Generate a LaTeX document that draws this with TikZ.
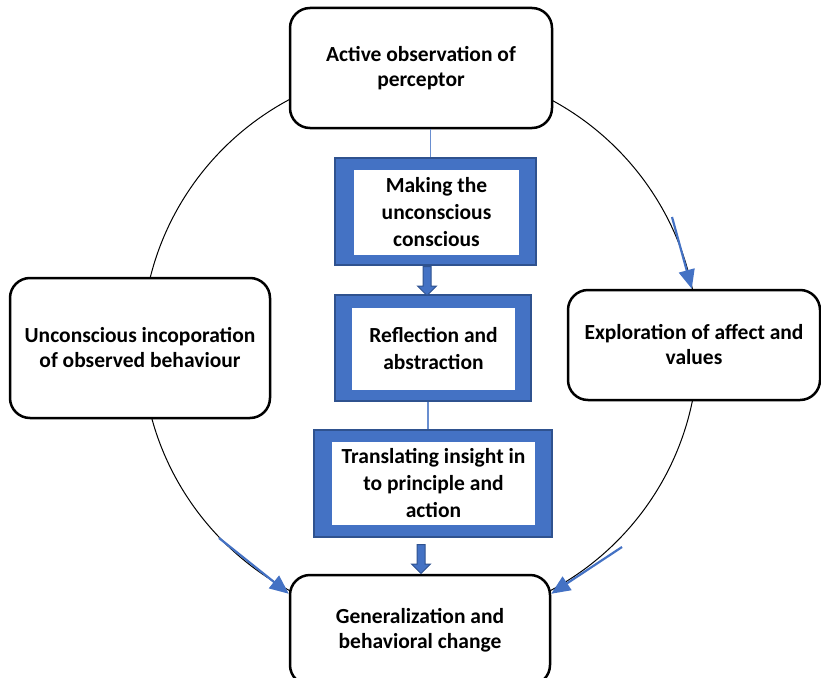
\documentclass[tikz,border=0pt]{standalone}
\usepackage{fontspec}
\setmainfont{Carlito}
\usetikzlibrary{arrows.meta,shapes.arrows}

\definecolor{boxblue}{HTML}{4472C4}
\definecolor{edgeblue}{HTML}{2F528F}

\tikzset{
  stage/.style={draw, rounded corners=20pt, line width=2.5pt, fill=white,
    align=center, font=\bfseries\fontsize{21.5}{25}\selectfont},
  outerbox/.style={draw=edgeblue, line width=1.5pt, fill=boxblue},
  innerbox/.style={fill=white, align=center, inner sep=0pt,
    font=\bfseries\fontsize{21.5}{27}\selectfont},
  blockarrow/.style={single arrow, rotate=-90, fill=boxblue,
    draw=edgeblue, line width=1pt, inner xsep=0pt, inner ysep=3.5pt,
    minimum width=18pt, single arrow head extend=5.5pt, minimum height=29pt},
  link/.style={draw=boxblue!80, line width=1.2pt},
  flow/.style={draw=boxblue, line width=2.2pt, -{Triangle[length=19pt,width=16pt]}}
}

\begin{document}
\begin{tikzpicture}[x=1pt, y=-1pt]
		\useasboundingbox (0,0) rectangle (821,677);
		% the cycle
		\draw [line width=1pt] (420,345) circle [radius=278pt];

		\node [stage, minimum width=262pt, minimum height=120pt] (observe) at (421,68) {Active observation of\\perceptor};
		\node [stage, minimum width=260pt, minimum height=140pt] (incorp) at (140,348) {Unconscious incoporation\\of observed behaviour};
		\node [stage, minimum width=252pt, minimum height=110pt] (explore) at (694,345) {Exploration of affect and\\values};
		\node [stage, minimum width=260pt, minimum height=110pt] (general) at (420,630) {Generalization and\\behavioral change};

		% steps in the middle
		\node [outerbox, minimum width=201pt, minimum height=107pt] (makeout) at (435.5,211.5) {};
		\node [innerbox, minimum width=165pt, minimum height=85pt] (making) at (436.5,212.5) {Making the\\unconscious\\conscious};
		\node [outerbox, minimum width=196pt, minimum height=106pt] (reflout) at (433,348) {};
		\node [innerbox, minimum width=163pt, minimum height=82pt] (reflect) at (433.5,349) {Reflection and\\abstraction};
		\node [outerbox, minimum width=238pt, minimum height=107pt] (transout) at (433,483.5) {};
		\node [innerbox, minimum width=203pt, minimum height=83pt] (translate) at (433.5,483.5) {Translating insight in\\to principle and\\action};

		\node [blockarrow] (down1) at (427,279) {};
		\node [blockarrow] (down2) at (421,557) {};

		\draw [link] ([xshift=-5pt]makeout.north) to ([xshift=-5pt]makeout.north |- observe.south);
		\draw [link] ([xshift=-5pt]reflout.south) to ([xshift=-5pt]transout.north);

		% arrows on the cycle
		\coordinate (tailR) at (672,217);
		\coordinate (tailBL) at (219,538);
		\coordinate (tailBR) at (622,547);
		\draw [flow] (tailR) to ([xshift=125pt]explore.north west);
		\draw [flow] (tailBL) to ([yshift=-20pt]general.north west);
		\draw [flow] (tailBR) to ([yshift=-20pt]general.north east);
		\end{tikzpicture}
\end{document}
